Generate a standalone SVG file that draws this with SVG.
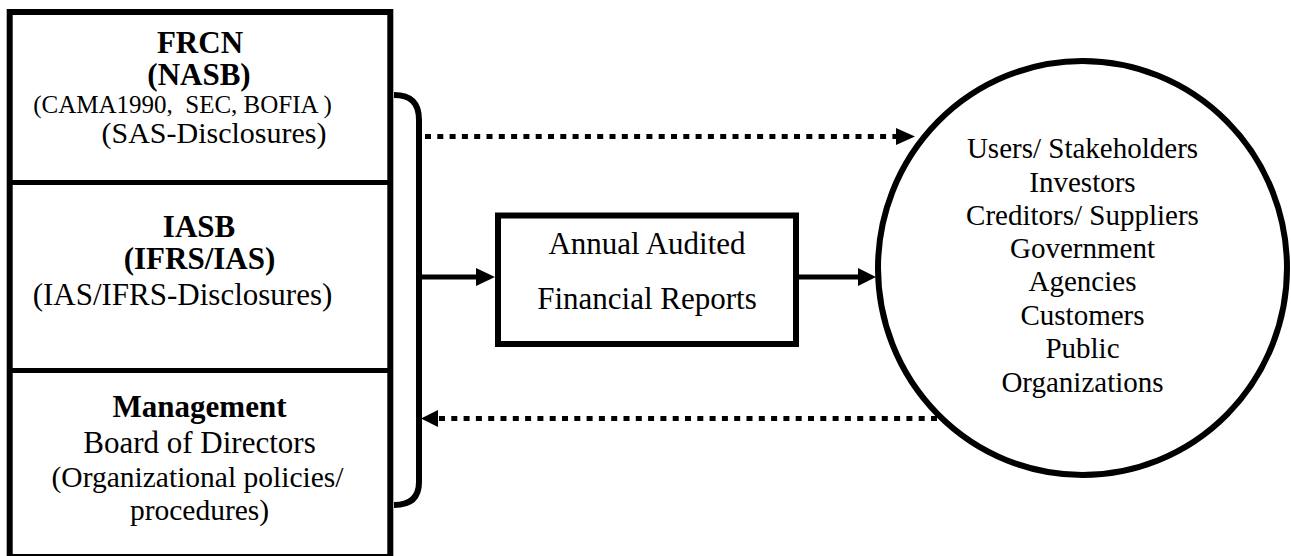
<svg xmlns="http://www.w3.org/2000/svg" width="1291" height="556" viewBox="0 0 1291 556">
<style>
text{font-family:'Liberation Serif','Times New Roman','DejaVu Serif',serif;fill:#000;text-anchor:middle;}
.b{font-weight:bold;font-size:31px;}
.r{font-size:31px;}
.c{font-size:29px;}
.ln{stroke:#000;fill:none;}
.dot{stroke:#000;stroke-width:5;stroke-dasharray:6 6.3;fill:none;}
</style>
<rect width="1291" height="556" fill="#fff"/>
<g id="left-panel">
<rect x="9.7" y="12" width="380.6" height="545" class="ln" stroke-width="6"/>
<line x1="12" y1="182.5" x2="388" y2="182.5" class="ln" stroke-width="5"/>
<line x1="12" y1="370.5" x2="388" y2="370.5" class="ln" stroke-width="5"/>
</g>
<g id="node-frcn">
<text class="b" x="200" y="53">FRCN</text>
<text class="b" x="199" y="85" font-size="32">(NASB)</text>
<text x="182.5" y="113" font-size="25" xml:space="preserve">(CAMA1990,  SEC, BOFIA )</text>
<text x="214" y="143" font-size="30">(SAS-Disclosures)</text>
</g>
<g id="node-iasb">
<text class="b" x="199" y="237">IASB</text>
<text class="b" x="199.5" y="269">(IFRS/IAS)</text>
<text class="r" x="182.5" y="305">(IAS/IFRS-Disclosures)</text>
</g>
<g id="node-management">
<text class="b" x="199.5" y="417">Management</text>
<text class="r" x="199.5" y="453">Board of Directors</text>
<text x="197.5" y="487" font-size="29.5">(Organizational policies/</text>
<text x="199.5" y="520" font-size="29.5">procedures)</text>
</g>
<g id="node-reports">
<rect x="498" y="215.5" width="298" height="128.5" class="ln" stroke-width="6"/>
<text x="647" y="254" font-size="31">Annual Audited</text>
<text x="647" y="309" font-size="31">Financial Reports</text>
</g>
<g id="node-users">
<ellipse cx="1082.5" cy="268" rx="204.5" ry="207" class="ln" stroke-width="6"/>
<text class="c" x="1082.5" y="158">Users/ Stakeholders</text>
<text class="c" x="1082.5" y="192">Investors</text>
<text class="c" x="1082.5" y="225">Creditors/ Suppliers</text>
<text class="c" x="1082.5" y="258">Government</text>
<text class="c" x="1082.5" y="291">Agencies</text>
<text class="c" x="1082.5" y="325">Customers</text>
<text class="c" x="1082.5" y="358">Public</text>
<text class="c" x="1082.5" y="392">Organizations</text>
</g>
<g id="connectors">
<path d="M394 95 C410 95 419 102 419 120 L419 482 C419 498 410 505 394 505" class="ln" stroke-width="6"/>
<line x1="425" y1="136.5" x2="897" y2="136.5" class="dot"/>
<polygon points="896,128 915,136.5 896,145" fill="#000"/>
<line x1="419" y1="277" x2="478" y2="277" class="ln" stroke-width="5"/>
<polygon points="476,268 495,277 476,286" fill="#000"/>
<line x1="799" y1="277" x2="860" y2="277" class="ln" stroke-width="5"/>
<polygon points="858,268 876,277 858,286" fill="#000"/>
<line x1="937" y1="418.5" x2="436" y2="418.5" class="dot"/>
<polygon points="438,410 421,418.5 438,427" fill="#000"/>
</g>
</svg>
